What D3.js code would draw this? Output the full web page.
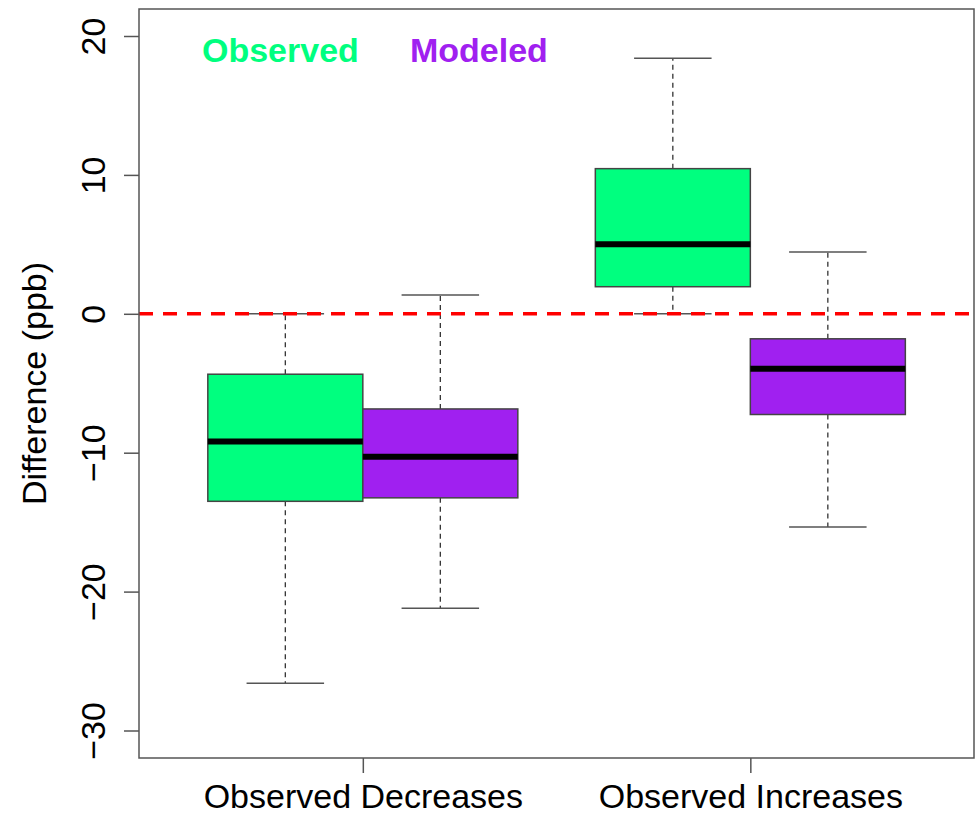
<!DOCTYPE html>
<html>
<head>
<meta charset="utf-8">
<script src="https://cdn.jsdelivr.net/npm/d3@7"></script>
<style>
  body { margin: 0; background: #fff; }
  text { font-family: "Liberation Sans", Arial, sans-serif; }
</style>
</head>
<body>
<div id="chart"></div>
<script>
// groups along the x axis, two boxes each
var groups = ["Observed Decreases", "Observed Increases"];
var series = ["Observed", "Modeled"];
var seriesColors = ["#00FF7F", "#A020F0"];

// box stats, order: [Obs/Decr, Mod/Decr, Obs/Incr, Mod/Incr]
var lowerWhisker = [-26.6, -21.2, 0.0, -15.35];
var q1 = [-13.5, -13.25, 1.95, -7.25];
var median = [-9.2, -10.3, 5.0, -3.95];
var q3 = [-4.35, -6.85, 10.45, -1.8];
var upperWhisker = [0.0, 1.35, 18.4, 4.45];

var yTicks = [-30, -20, -10, 0, 10, 20];

var width = 979, height = 815;
var frame = {left: 139, right: 974, top: 9, bottom: 758};

var svg = d3.select("#chart").append("svg")
    .attr("width", width)
    .attr("height", height);

var x = d3.scaleLinear()
    .domain([0.056, 5.443])
    .range([frame.left, frame.right]);

var y = d3.scaleLinear()
    .domain([-30, 20])
    .range([730.5, 36]);

var boxes = [];
groups.forEach(function(g, gi) {
    series.forEach(function(s, si) {
        var i = gi * series.length + si;
        boxes.push({
            pos: 1 + gi * 2.5 + si,
            color: seriesColors[si],
            lo: lowerWhisker[i], q1: q1[i], med: median[i], q3: q3[i], hi: upperWhisker[i]
        });
    });
});

var halfBox = 0.5, halfCap = 0.25;

var g = svg.append("g");

// whiskers
g.selectAll(".whisker").data(boxes).enter().append("g")
    .each(function(d) {
        var sel = d3.select(this);
        [[d.q3, d.hi], [d.q1, d.lo]].forEach(function(p) {
            sel.append("line")
                .attr("x1", x(d.pos)).attr("x2", x(d.pos))
                .attr("y1", y(p[0])).attr("y2", y(p[1]))
                .attr("stroke", "#333")
                .attr("stroke-width", 1.3)
                .attr("stroke-dasharray", "5,4");
            sel.append("line")
                .attr("x1", x(d.pos - halfCap)).attr("x2", x(d.pos + halfCap))
                .attr("y1", y(p[1])).attr("y2", y(p[1]))
                .attr("stroke", "#555")
                .attr("stroke-width", 1.6);
        });
    });

// boxes
g.selectAll(".box").data(boxes).enter().append("rect")
    .attr("x", function(d) { return x(d.pos - halfBox); })
    .attr("width", function(d) { return x(d.pos + halfBox) - x(d.pos - halfBox); })
    .attr("y", function(d) { return y(d.q3); })
    .attr("height", function(d) { return y(d.q1) - y(d.q3); })
    .attr("fill", function(d) { return d.color; })
    .attr("stroke", "#444")
    .attr("stroke-width", 1.5);

// medians
g.selectAll(".median").data(boxes).enter().append("line")
    .attr("x1", function(d) { return x(d.pos - halfBox); })
    .attr("x2", function(d) { return x(d.pos + halfBox); })
    .attr("y1", function(d) { return y(d.med); })
    .attr("y2", function(d) { return y(d.med); })
    .attr("stroke", "#000")
    .attr("stroke-width", 6);

// zero reference line
svg.append("line")
    .attr("x1", frame.left).attr("x2", frame.right)
    .attr("y1", y(0)).attr("y2", y(0))
    .attr("stroke", "#FF0000")
    .attr("stroke-width", 3.5)
    .attr("stroke-dasharray", "14,10");

// frame
svg.append("rect")
    .attr("x", frame.left).attr("y", frame.top)
    .attr("width", frame.right - frame.left)
    .attr("height", frame.bottom - frame.top)
    .attr("fill", "none")
    .attr("stroke", "#555")
    .attr("stroke-width", 1.5);

// y axis
var yAxis = svg.append("g")
    .attr("transform", "translate(" + frame.left + ",0)")
    .call(d3.axisLeft(y).tickValues(yTicks).tickSize(15).tickSizeOuter(0)
        .tickFormat(function(d) { return d < 0 ? "\u2212" + Math.abs(d) : d; }));
yAxis.select(".domain").remove();
yAxis.selectAll(".tick line").attr("stroke", "#555").attr("stroke-width", 1.5);
yAxis.selectAll(".tick text")
    .attr("x", null).attr("dy", null)
    .attr("transform", "translate(-34,0) rotate(-90)")
    .attr("text-anchor", "middle")
    .attr("fill", "#000")
    .style("font-size", "34px");

// x axis
var xAxis = svg.append("g")
    .attr("transform", "translate(0," + frame.bottom + ")")
    .call(d3.axisBottom(x).tickValues([1.5, 4]).tickSize(15).tickSizeOuter(0)
        .tickFormat(function(d, i) { return groups[i]; }));
xAxis.select(".domain").remove();
xAxis.selectAll(".tick line").attr("stroke", "#555").attr("stroke-width", 1.5);
xAxis.selectAll(".tick text")
    .attr("y", 50).attr("dy", null)
    .attr("fill", "#000")
    .style("font-size", "34px");

// y label
svg.append("text")
    .attr("transform", "translate(46," + (frame.top + frame.bottom) / 2 + ") rotate(-90)")
    .attr("text-anchor", "middle")
    .style("font-size", "34px")
    .text("Difference (ppb)");

// legend
var legendX = [202, 410];
svg.selectAll(".legend").data(series).enter().append("text")
    .attr("x", function(d, i) { return legendX[i]; })
    .attr("y", 62)
    .attr("fill", function(d, i) { return seriesColors[i]; })
    .style("font-size", "34px")
    .style("font-weight", "bold")
    .text(function(d) { return d; });
</script>
</body>
</html>
